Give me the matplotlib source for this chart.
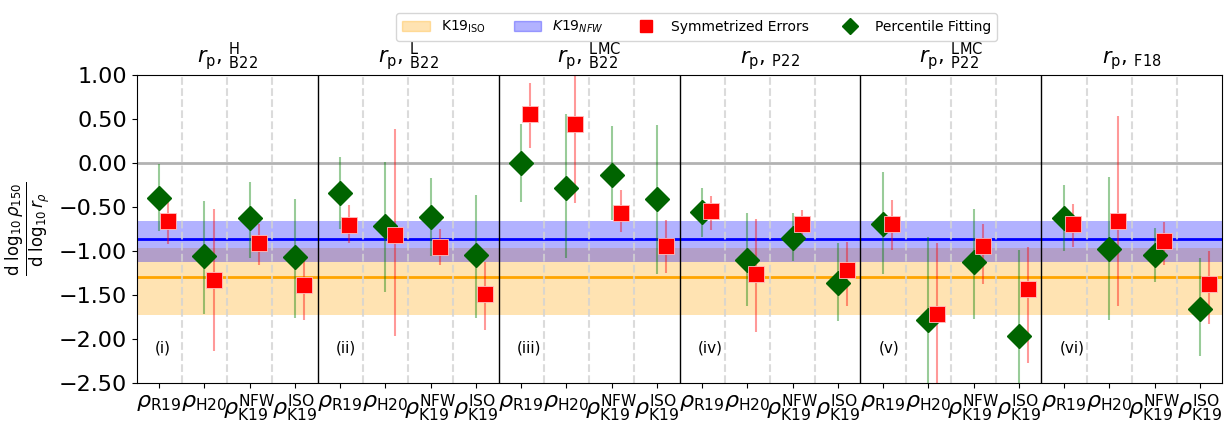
import numpy as np
import matplotlib
matplotlib.use('Agg')
import matplotlib.pyplot as plt
from matplotlib.patches import Patch
from matplotlib.lines import Line2D

# titulos de cada painel
paineis = [r'$r_{\rm p}$, $^{\rm H}_{\rm B22}$', r'$r_{\rm p}$, $^{\rm L}_{\rm B22}$',
           r'$r_{\rm p}$, $^{\rm LMC}_{\rm B22}$', r'$r_{\rm p}$, $_{\rm P22}$',
           r'$r_{\rm p}$, $^{\rm LMC}_{\rm P22}$', r'$r_{\rm p}$, $_{\rm F18}$']
rotulos_paineis = ['(i)', '(ii)', '(iii)', '(iv)', '(v)', '(vi)']
categorias = [r'$\rho_{\rm R19}$', r'$\rho_{\rm H20}$', r'$\rho_{\rm K19}^{\rm NFW}$', r'$\rho_{\rm K19}^{\rm ISO}$']

# percentile fitting (verde): valor, limite inferior, limite superior
verde = [-0.40, -1.06, -0.63, -1.07,
         -0.34, -0.72, -0.61, -1.05,
         0.00, -0.29, -0.14, -0.41,
         -0.56, -1.10, -0.85, -1.36,
         -0.69, -1.78, -1.13, -1.96,
         -0.62, -0.98, -1.05, -1.66]
verde_inf = [-0.77, -1.72, -1.08, -1.76,
             -0.75, -1.47, -1.06, -1.76,
             -0.44, -1.08, -0.65, -1.26,
             -0.84, -1.63, -1.11, -1.80,
             -1.26, -2.80, -1.77, -2.80,
             -1.00, -1.78, -1.35, -2.19]
verde_sup = [-0.01, -0.43, -0.22, -0.41,
             0.07, 0.01, -0.17, -0.36,
             0.44, 0.56, 0.42, 0.43,
             -0.28, -0.57, -0.57, -0.91,
             -0.10, -0.84, -0.52, -0.99,
             -0.25, -0.16, -0.74, -1.08]

# symmetrized errors (vermelho)
vermelho = [-0.66, -1.33, -0.91, -1.39,
            -0.70, -0.82, -0.95, -1.49,
            0.56, 0.44, -0.57, -0.94,
            -0.55, -1.26, -0.69, -1.22,
            -0.69, -1.71, -0.94, -1.43,
            -0.69, -0.66, -0.89, -1.37]
vermelho_inf = [-0.92, -2.13, -1.16, -1.78,
                -0.91, -1.96, -1.16, -1.90,
                0.17, -0.46, -0.79, -1.25,
                -0.76, -1.92, -0.85, -1.63,
                -0.99, -2.80, -1.38, -2.27,
                -0.95, -1.63, -1.16, -1.83]
vermelho_sup = [-0.44, -0.52, -0.69, -1.06,
                -0.48, 0.38, -0.75, -1.12,
                0.91, 1.35, -0.31, -0.65,
                -0.38, -0.64, -0.54, -0.90,
                -0.42, -0.91, -0.69, -0.96,
                -0.47, 0.53, -0.67, -1.00]

# faixas K19
k19_nfw = -0.86
k19_nfw_faixa = [-1.13, -0.66]
k19_iso = -1.29
k19_iso_faixa = [-1.73, -0.965]


def main():
    fig = plt.figure(figsize=(12.31, 4.30), dpi=100)
    ax = fig.add_axes([0.111, 0.109, 0.882, 0.717])

    x = np.arange(len(verde))
    v = np.array(verde)
    r = np.array(vermelho)

    ax.axhspan(k19_iso_faixa[0], k19_iso_faixa[1], color='orange', alpha=0.3, lw=0)
    ax.axhspan(k19_nfw_faixa[0], k19_nfw_faixa[1], color='blue', alpha=0.3, lw=0)
    ax.axhline(k19_iso, color='orange', lw=2)
    ax.axhline(k19_nfw, color='blue', lw=2)
    ax.axhline(0, color='gray', alpha=0.6, lw=2)

    for i in range(len(x) - 1):
        if (i + 1) % 4 == 0:
            ax.axvline(i + 0.5, color='black', lw=1)
        else:
            ax.axvline(i + 0.5, color='lightgray', ls='--', lw=1.5, alpha=0.8)

    ax.errorbar(x, v, yerr=[v - np.array(verde_inf), np.array(verde_sup) - v], fmt='D',
                color='darkgreen', ms=12, ecolor=(0, 0.5, 0, 0.4), elinewidth=1.5)
    ax.errorbar(x + 0.2, r, yerr=[r - np.array(vermelho_inf), np.array(vermelho_sup) - r], fmt='s',
                color='red', ms=12, mec=(1, 0.75, 0.75), mew=0.6, ecolor=(1, 0, 0, 0.4), elinewidth=1.5)

    for k in range(6):
        ax.text(4 * k - 0.5 + 0.4, -2.1, rotulos_paineis[k], fontsize=11, va='center')
        ax.text(4 * k + 1.5, 1.03, paineis[k], fontsize=15, ha='center', va='bottom')

    ax.set_xlim(-0.5, len(x) - 0.5)
    ax.set_ylim(-2.5, 1.0)
    ax.set_xticks(x)
    ax.set_xticklabels(categorias * 6, fontsize=16)
    yt = np.arange(-2.5, 1.01, 0.5)
    ax.set_yticks(yt)
    ax.set_yticklabels([('%.2f' % t).replace('-', '\u2212') for t in yt], fontsize=16)
    ax.set_ylabel(r'$\frac{\mathrm{d}\ \log_{10}\rho_{150}}{\mathrm{d}\ \log_{10}r_\rho}$', fontsize=17)

    handles = [Patch(color='orange', alpha=0.3), Patch(color='blue', alpha=0.3),
               Line2D([], [], marker='s', color='red', ls='', ms=8),
               Line2D([], [], marker='D', color='darkgreen', ls='', ms=8)]
    labels = [r'K19$_{\rm ISO}$', r'$K19_{NFW}$', 'Symmetrized Errors', 'Percentile Fitting']
    fig.legend(handles, labels, loc='upper center', bbox_to_anchor=(0.566, 0.985), ncol=4, fontsize=10)

    plt.savefig('out.png')


main()
